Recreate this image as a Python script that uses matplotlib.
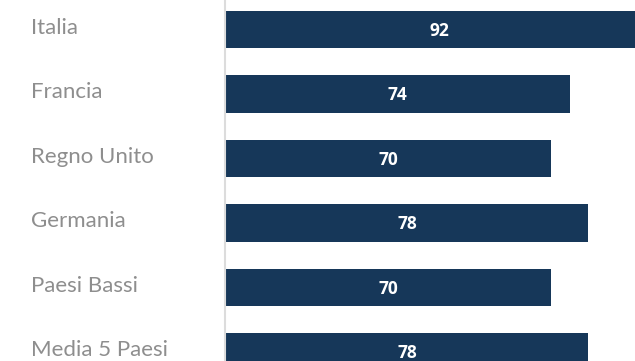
import matplotlib
matplotlib.use("Agg")
import matplotlib.pyplot as plt
from matplotlib.transforms import blended_transform_factory

categories = ["Italia", "Francia", "Regno Unito", "Germania", "Paesi Bassi", "Media 5 Paesi"]
values = [92, 74, 70, 78, 70, 78]

bar_color = "#163759"
label_color = "#8e8e8e"

W, H = 635, 361
fig = plt.figure(figsize=(W / 100, H / 100), dpi=100)
ax = fig.add_axes([226 / W, 0, 1 - 226 / W, 1])

ypos = list(range(len(categories)))
ax.barh(ypos, values, height=0.574, color=bar_color)
ax.set_xlim(0, 88.05)
ax.set_ylim(5 + 9 / 64.5, -29.5 / 64.5)

for y, v in zip(ypos, values):
    ax.text(v / 2, y + 0.1, str(v), ha="center", va="baseline", color="white",
            fontsize=12.5, fontweight="bold", family=["Open Sans", "DejaVu Sans"])

tr = blended_transform_factory(fig.transFigure, ax.transData)
for y, c in zip(ypos, categories):
    ax.text(31 / W, y + 0.063, c, transform=tr, ha="left", va="baseline",
            color=label_color, fontsize=16, fontweight="normal",
            family=["Lato", "DejaVu Sans"], clip_on=False)

for s in ["top", "right", "bottom"]:
    ax.spines[s].set_visible(False)
ax.spines["left"].set_color("#dcdcdc")
ax.spines["left"].set_linewidth(1.5)
ax.spines["left"].set_position(("outward", 1))
ax.set_xticks([])
ax.set_yticks([])

fig.savefig("out.png", dpi=100)
